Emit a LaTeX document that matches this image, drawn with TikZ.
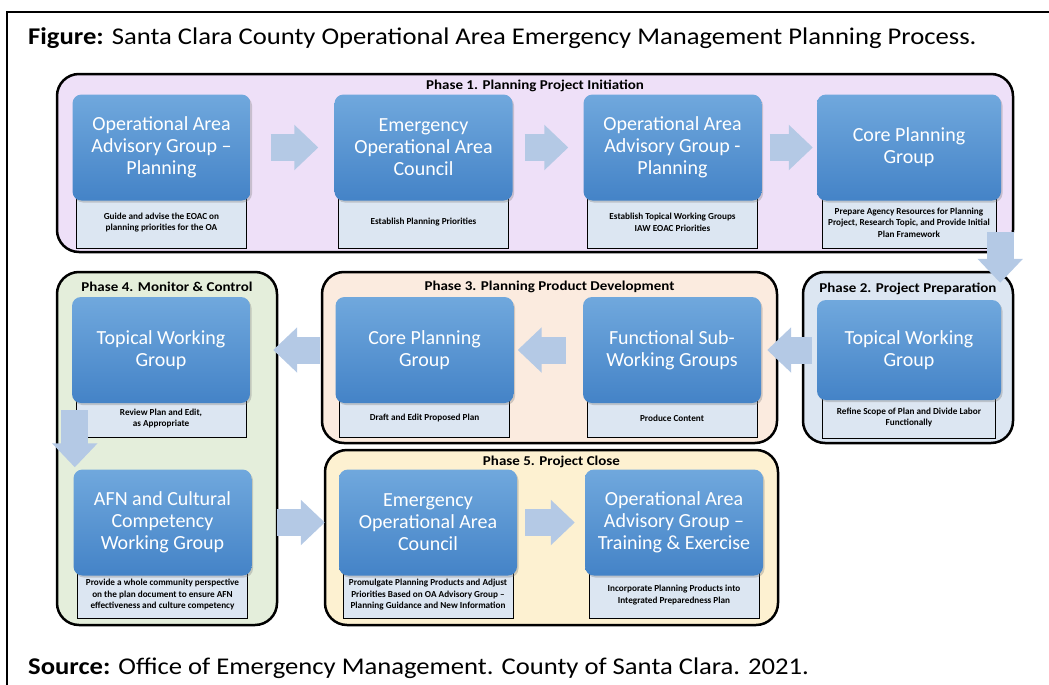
\documentclass[tikz,border=0pt]{standalone}
\usepackage{fontspec}
\setmainfont{Carlito}
\newfontfamily\widefont[FakeStretch=1.11]{Carlito}
\usepackage{tikz}
\usetikzlibrary{
    arrows.meta,
    positioning,
    shadows
}
\definecolor{phaseA}{RGB}{238,224,248}
\definecolor{phaseB}{RGB}{220,230,242}
\definecolor{phaseC}{RGB}{251,235,223}
\definecolor{phaseD}{RGB}{228,238,219}
\definecolor{phaseE}{RGB}{253,241,209}
\definecolor{boxtop}{RGB}{112,168,221}
\definecolor{boxbot}{RGB}{68,131,199}
\definecolor{descfill}{RGB}{220,230,242}
\definecolor{arrowfill}{RGB}{180,201,229}

\begin{document}
\begin{tikzpicture}[x=1pt, y=-1pt,
    phase/.style={draw, line width=2.5pt, rounded corners=22pt, inner sep=0pt},
    phasetitle/.style={font=\widefont\fontsize{13.5}{15}\selectfont\bfseries, inner sep=0pt},
    caption/.style={anchor=base west, inner sep=0pt, font=\widefont\fontsize{24}{28}\selectfont},
    stepbox/.style={rounded corners=9pt, top color=boxtop, bottom color=boxbot,
        text=white, minimum width=178pt, minimum height=106pt, align=center,
        font=\fontsize{20}{22}\selectfont,
        drop shadow={shadow xshift=1.5pt, shadow yshift=-2pt, opacity=0.35}},
    desc/.style={draw, line width=0.8pt, fill=descfill, minimum width=170pt,
        minimum height=38pt, align=center, inner sep=1pt,
        font=\fontsize{9.2}{11.5}\selectfont\bfseries},
    blockarrow/.style={draw=arrowfill, line width=27pt,
        -{Triangle[width=44pt, length=24pt]}}
]
    \useasboundingbox (0, 0) rectangle (1049, 685);
    \draw[line width=2pt] (7, 685) -- (7, 12) -- (1049, 12);
    \node[caption] (fig) at (28, 45)
        {\textbf{Figure:} Santa Clara County Operational Area Emergency Management Planning Process.};
    \node[caption] (src) at (28, 674)
        {\textbf{Source:} Office of Emergency Management. County of Santa Clara. 2021.};

    \node[phase, fill=phaseA, minimum width=956pt, minimum height=178pt] (p1) at (535, 163) {};
    \node[phase, fill=phaseB, minimum width=210pt, minimum height=171pt] (p2) at (908, 357.5) {};
    \node[phase, fill=phaseC, minimum width=455pt, minimum height=171pt] (p3) at (549.5, 357.5) {};
    \node[phase, fill=phaseD, minimum width=220pt, minimum height=353pt] (p4) at (167, 448.5) {};
    \node[phase, fill=phaseE, minimum width=453pt, minimum height=175pt] (p5) at (551.5, 537.5) {};
    \node[phasetitle] (t1) at ([yshift=-13pt]p1.north) {Phase 1. Planning Project Initiation};
    \node[phasetitle] (t2) at ([yshift=-18pt]p2.north) {Phase 2. Project Preparation};
    \node[phasetitle] (t3) at ([yshift=-16pt]p3.north) {Phase 3. Planning Product Development};
    \node[phasetitle] (t4) at ([yshift=-16pt]p4.north) {Phase 4. Monitor \& Control};
    \node[phasetitle] (t5) at ([yshift=-13pt]p5.north) {Phase 5. Project Close};

    \coordinate (b1c) at (161.5, 147.5);
    \coordinate (b2c) at (423.5, 147.5);
    \coordinate (b3c) at (672.5, 147.5);
    \coordinate (b4c) at (909, 147.5);
    \coordinate (tw2c) at (909, 350);
    \coordinate (fs3c) at (672, 350);
    \coordinate (cp3c) at (424.5, 350);
    \coordinate (tw4c) at (161, 350);
    \coordinate (afn4c) at (162.5, 522.5);
    \coordinate (eo5c) at (428, 522.5);
    \coordinate (oa5c) at (674, 522.5);

    \node[desc, minimum height=51pt, below=-4pt of b1c, yshift=-53pt] (d1)
        {Guide and advise the EOAC on\\planning priorities for the OA};
    \node[desc, minimum height=51pt, below=-4pt of b2c, yshift=-53pt] (d2)
        {Establish Planning Priorities};
    \node[desc, minimum height=51pt, below=-4pt of b3c, yshift=-53pt] (d3)
        {Establish Topical Working Groups\\IAW EOAC Priorities};
    \node[desc, minimum height=51pt, minimum width=174pt, below=-4pt of b4c, yshift=-53pt] (d4)
        {Prepare Agency Resources for Planning\\Project, Research Topic, and Provide Initial\\Plan Framework};
    \node[desc, minimum height=42pt, minimum width=173pt, below=-4pt of tw2c, yshift=-50pt] (dtw2)
        {Refine Scope of Plan and Divide Labor\\Functionally};
    \node[desc, minimum height=38pt, below=-4pt of fs3c, yshift=-53pt] (dfs3)
        {Produce Content};
    \node[desc, minimum height=38pt, below=-4pt of cp3c, yshift=-53pt] (dcp3)
        {Draft and Edit Proposed Plan};
    \node[desc, minimum height=38pt, below=-4pt of tw4c, yshift=-53pt] (dtw4)
        {Review Plan and Edit,\\as Appropriate};
    \node[desc, minimum height=46pt, below=-4pt of afn4c, yshift=-53pt] (dafn4)
        {Provide a whole community perspective\\on the plan document to ensure AFN\\effectiveness and culture competency};
    \node[desc, minimum height=46pt, below=-4pt of eo5c, yshift=-53pt] (deo5)
        {Promulgate Planning Products and Adjust\\Priorities Based on OA Advisory Group –\\Planning Guidance and New Information};
    \node[desc, minimum height=46pt, below=-4pt of oa5c, yshift=-53pt] (doa5)
        {Incorporate Planning Products into\\Integrated Preparedness Plan};

    \node[stepbox] (b1) at (b1c) {Operational Area\\Advisory Group –\\Planning};
    \node[stepbox] (b2) at (b2c) {Emergency\\Operational Area\\Council};
    \node[stepbox] (b3) at (b3c) {Operational Area\\Advisory Group -\\Planning};
    \node[stepbox, minimum width=184pt] (b4) at (b4c) {Core Planning\\Group};
    \node[stepbox, minimum width=184pt, minimum height=100pt] (tw2) at (tw2c) {Topical Working\\Group};
    \node[stepbox] (fs3) at (fs3c) {Functional Sub-\\Working Groups};
    \node[stepbox] (cp3) at (cp3c) {Core Planning\\Group};
    \node[stepbox] (tw4) at (tw4c) {Topical Working\\Group};
    \node[stepbox] (afn4) at (afn4c) {AFN and Cultural\\Competency\\Working Group};
    \node[stepbox] (eo5) at (eo5c) {Emergency\\Operational Area\\Council};
    \node[stepbox] (oa5) at (oa5c) {Operational Area\\Advisory Group –\\Training \& Exercise};

    \draw[blockarrow, shorten <=20pt, shorten >=16pt] (b1) -- (b2);
    \draw[blockarrow, shorten <=12pt, shorten >=15pt] (b2) -- (b3);
    \draw[blockarrow, shorten <=8pt, shorten >=4pt] (b3) -- (b4);
    \draw[blockarrow, shorten <=31pt, shorten >=17pt]
        ([xshift=-1pt]b4.south east) -- ([xshift=-1pt]b4.south east |- tw2.north);
    \draw[blockarrow, shorten <=5pt, shorten >=6pt] (tw2) -- (fs3);
    \draw[blockarrow, shorten <=17pt, shorten >=4pt] (fs3) -- (cp3);
    \draw[blockarrow, shorten <=15pt, shorten >=23pt] (cp3) -- (tw4);
    \draw[blockarrow, shorten <=7pt, shorten >=2pt]
        ([xshift=3pt]tw4.south west) -- ([xshift=3pt]tw4.south west |- afn4.north);
    \draw[blockarrow, shorten <=25pt, shorten >=14pt] (afn4) -- (eo5);
    \draw[blockarrow, shorten <=8pt, shorten >=10pt] (eo5) -- (oa5);
\end{tikzpicture}
\end{document}
